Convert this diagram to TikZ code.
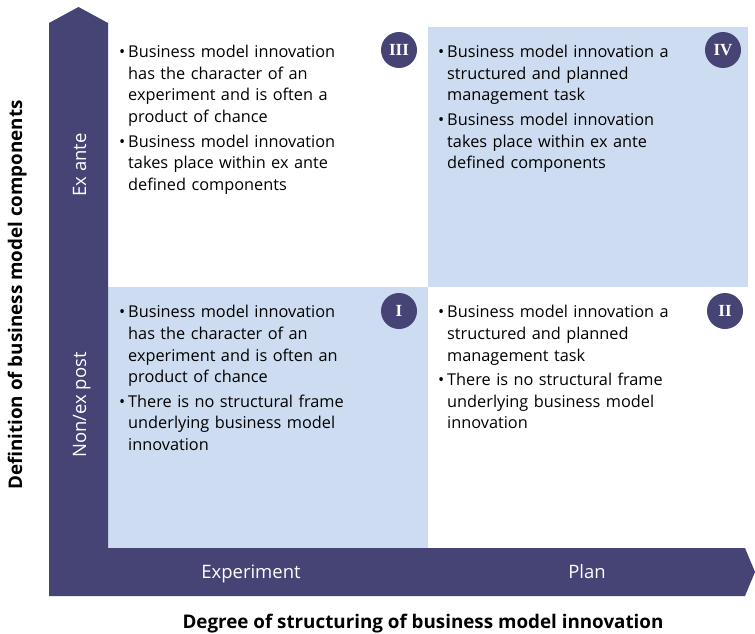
\documentclass[tikz,border=0pt]{standalone}
\usepackage{fontspec}
\setmainfont{Open Sans}
\newfontfamily\numfont{Liberation Serif}
\definecolor{darkbar}{RGB}{70,67,117}
\definecolor{lightq}{RGB}{205,220,241}
\newcommand{\bul}[1]{\par\noindent\hangindent=9pt\hangafter=1\makebox[9pt][l]{\textbullet}#1\par}
\tikzset{
  quad/.style={fill=lightq, draw=none},
  badge/.style={circle, fill=darkbar, minimum size=36pt, inner sep=0pt, text=white, font=\numfont\bfseries\fontsize{17}{17}\selectfont},
  qtext/.style={anchor=north west, inner sep=0pt, text width=250pt, font=\fontsize{16.3}{21.6}\selectfont},
  axlab/.style={text=white, font=\fontsize{18.5}{18.5}\selectfont},
  axtitle/.style={font=\bfseries\fontsize{18.8}{18.8}\selectfont}
}
\begin{document}
\begin{tikzpicture}[x=1pt,y=-1pt]
\useasboundingbox (0,0) rectangle (755,634);
% quadrants
\fill[quad] (428,27) rectangle (748,287);
\fill[quad] (108,287) rectangle (428,548);
% axes
\fill[darkbar] (49,596) -- (49,23) -- (78.5,7) -- (108,23) -- (108,548) -- (745,548) -- (755,572) -- (745,596) -- cycle;
% axis labels
\node[axlab, rotate=90, anchor=base] (exante) at (86,165) {Ex ante};
\node[axlab, rotate=90, anchor=base] (nonex) at (86,405) {Non/ex post};
\node[axlab, anchor=base] (exper) at (251,578) {Experiment};
\node[axlab, anchor=base] (plan) at (587,578) {Plan};
\node[axtitle, rotate=90, anchor=base] (ytitle) at (22,295) {Definition of business model components};
\node[axtitle, anchor=base] (xtitle) at (423,628) {Degree of structuring of business model innovation};
% badges
\node[badge] (b3) at (399,50) {III};
\node[badge] (b4) at (723,50) {IV};
\node[badge] (b1) at (399,311) {I};
\node[badge] (b2) at (725,311) {II};
% texts
\node[qtext] (t3) at (119,36) {%
\bul{Business model innovation\newline has the character of an\newline experiment and is often a\newline product of chance}\vspace{3pt}
\bul{Business model innovation\newline takes place within ex ante\newline defined components}};
\node[qtext] (t4) at (438,36) {%
\bul{Business model innovation a\newline structured and planned\newline management task}\vspace{3pt}
\bul{Business model innovation\newline takes place within ex ante\newline defined components}};
\node[qtext] (t1) at (119,296) {%
\bul{Business model innovation\newline has the character of an\newline experiment and is often an\newline product of chance}\vspace{3pt}
\bul{There is no structural frame\newline underlying business model\newline innovation}};
\node[qtext] (t2) at (438,296) {%
\bul{Business model innovation a\newline structured and planned\newline management task}\vspace{3pt}
\bul{There is no structural frame\newline underlying business model\newline innovation}};
\end{tikzpicture}
\end{document}
